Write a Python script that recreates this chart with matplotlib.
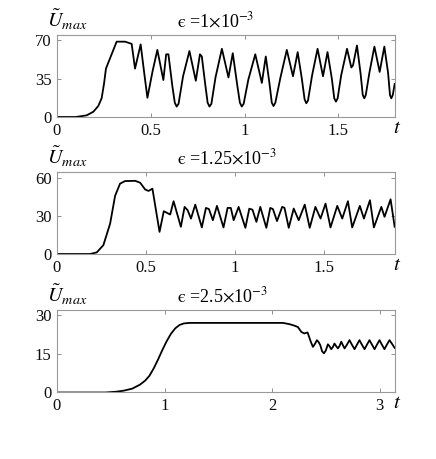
import matplotlib
matplotlib.use("Agg")
import matplotlib.pyplot as plt

plt.rcParams['font.family'] = ['Liberation Serif', 'DejaVu Serif']
plt.rcParams['mathtext.fontset'] = 'stix'

# ---- data ----
t1 = [0, 0.10, 0.158, 0.194, 0.22, 0.238, 0.251, 0.261, 0.318, 0.363, 0.398, 0.416,
      0.446, 0.465, 0.482, 0.51, 0.535, 0.567, 0.582, 0.594, 0.615, 0.628, 0.638, 0.648,
      0.672, 0.706, 0.74, 0.762, 0.772, 0.79, 0.803, 0.813, 0.823, 0.845, 0.879, 0.914,
      0.937, 0.96, 0.975, 0.985, 0.995, 1.02, 1.057, 1.092, 1.113, 1.133, 1.145, 1.154,
      1.164, 1.19, 1.225, 1.258, 1.283, 1.305, 1.32, 1.329, 1.338, 1.36, 1.389, 1.418,
      1.442, 1.465, 1.478, 1.487, 1.496, 1.515, 1.546, 1.569, 1.578, 1.599, 1.618, 1.63,
      1.638, 1.646, 1.665, 1.692, 1.72, 1.745, 1.765, 1.775, 1.782, 1.79, 1.80]
u1 = [0, 0, 1.5, 4.8, 10, 17, 30.6, 44, 68.5, 68.5, 66.5, 44,
      66, 40, 17.5, 42, 61, 33.6, 57, 57, 28, 13, 9.5, 12,
      37, 60, 33, 57, 55, 30, 13, 9.5, 12, 36, 62, 36,
      58, 30, 13, 9.5, 12, 34, 57, 31, 55, 30, 13, 10,
      13, 35, 61, 37, 59, 35, 16, 12.5, 15, 38, 62, 37,
      59, 35, 17, 14, 17, 38, 62, 45, 47, 65, 40, 20,
      17, 20, 40, 64, 41, 64, 40, 20, 17, 20, 30]

t2 = [0, 0.186, 0.224, 0.261, 0.299, 0.327, 0.355, 0.383, 0.44, 0.468, 0.496, 0.515,
      0.537, 0.577, 0.601, 0.637, 0.656, 0.697, 0.718, 0.735, 0.754, 0.778, 0.815, 0.838,
      0.855, 0.877, 0.9, 0.937, 0.96, 0.978, 0.994, 1.022, 1.06, 1.082, 1.1, 1.122,
      1.144, 1.178, 1.2, 1.215, 1.238, 1.267, 1.28, 1.304, 1.332, 1.36, 1.394, 1.422,
      1.454, 1.483, 1.511, 1.539, 1.577, 1.605, 1.637, 1.661, 1.704, 1.727, 1.761, 1.783,
      1.825, 1.843, 1.877, 1.9]
u2 = [0, 0, 1.3, 7, 24, 46, 55.6, 57.6, 57.8, 56.3, 51, 49.8,
      51.6, 17.5, 33.8, 31.2, 41.7, 21.5, 37.2, 34.6, 28, 39, 21, 36.4,
      35.5, 26.7, 38, 21, 36.4, 36.4, 26.7, 37.2, 20.7, 35.8, 35, 25.4,
      37.2, 20.7, 36.4, 35.5, 26, 37.2, 36.5, 20.7, 35.9, 26.7, 39, 20.7,
      37.2, 28, 39.8, 21, 38, 28, 41.7, 21, 38, 28, 42.5, 21,
      37.2, 29.4, 43.2, 21.5]

t3 = [0, 0.45, 0.55, 0.62, 0.7, 0.77, 0.82, 0.86, 0.9, 0.94, 0.98, 1.02, 1.06,
      1.1, 1.14, 1.18, 1.235, 2.10, 2.163, 2.21, 2.24, 2.272, 2.30, 2.33, 2.36,
      2.38, 2.395, 2.417, 2.432, 2.448, 2.465, 2.482, 2.5, 2.519, 2.535, 2.55, 2.565,
      2.58, 2.596, 2.612, 2.628, 2.643, 2.658, 2.674, 2.697, 2.72, 2.743, 2.767, 2.79,
      2.813, 2.836, 2.86, 2.883, 2.906, 2.93, 2.953, 2.976, 2.999, 3.022, 3.045, 3.068,
      3.092, 3.115, 3.14]
u3 = [0, 0, 0.3, 0.7, 1.5, 3.0, 4.6, 6.5, 9.4, 12.8, 16.5, 19.9, 22.8,
      24.9, 26.2, 26.8, 27, 27, 26.5, 25.9, 25.4, 23.5, 22.9, 23.3, 19.7,
      17.7, 18.6, 20.3, 19.6, 18.4, 16.0, 15.2, 16.3, 18.7, 17.9, 16.8, 17.6,
      19.0, 18.0, 17.1, 18.1, 19.7, 18.4, 17.1, 18.6, 20.3, 18.5, 16.8, 18.6,
      20.3, 18.5, 16.8, 18.6, 20.3, 18.5, 16.8, 18.6, 20.3, 18.5, 16.8, 18.6,
      20.3, 18.9, 17.3]

titles = [r'$\mathrm{ϵ}$ =1$\times$10$^{\mathrm{-3}}$',
          r'$\mathrm{ϵ}$ =1.25$\times$10$^{\mathrm{-3}}$',
          r'$\mathrm{ϵ}$ =2.5$\times$10$^{\mathrm{-3}}$']
xlims = [1.8, 1.9, 3.14]
ylims = [75, 65, 32]
xticks = [[0, 0.5, 1, 1.5], [0, 0.5, 1, 1.5], [0, 1, 2, 3]]
xticklabels = [['0', '0.5', '1', '1.5'], ['0', '0.5', '1', '1.5'], ['0', '1', '2', '3']]
yticks = [[0, 35, 70], [0, 30, 60], [0, 15, 30]]
ylabel = r'$\tilde{U}_{max}$'
xlabel = r'$t$'

fig = plt.figure(figsize=(4.36, 4.59), dpi=100)
rects = [[0.1307, 0.7451, 0.7745, 0.1797],
         [0.1307, 0.4466, 0.7745, 0.1793],
         [0.1307, 0.1449, 0.7745, 0.1797]]
series = [(t1, u1), (t2, u2), (t3, u3)]

for i in range(3):
    ax = fig.add_axes(rects[i])
    t, u = series[i]
    ax.plot(t, u, color='black', lw=1.3)
    ax.set_xlim(0, xlims[i])
    ax.set_ylim(0, ylims[i])
    ax.set_xticks(xticks[i])
    ax.set_xticklabels(xticklabels[i])
    ax.set_yticks(yticks[i])
    for s in ax.spines.values():
        s.set_color('0.6')
        s.set_linewidth(0.8)
    ax.tick_params(direction='in', length=3, width=0.6, color='0.5',
                   top=True, right=True, labelsize=12, labelcolor='0.05', pad=4)
    ax.text(0.355, 1.095, titles[i], transform=ax.transAxes, ha='left',
            va='baseline', fontsize=13)
    ax.text(-0.03, 1.09, ylabel, transform=ax.transAxes, ha='left',
            va='baseline', fontsize=14.5)
    ax.text(1.008, -0.135, xlabel, transform=ax.transAxes, ha='center',
            va='center', fontsize=15)

fig.savefig('out.png', dpi=100)
